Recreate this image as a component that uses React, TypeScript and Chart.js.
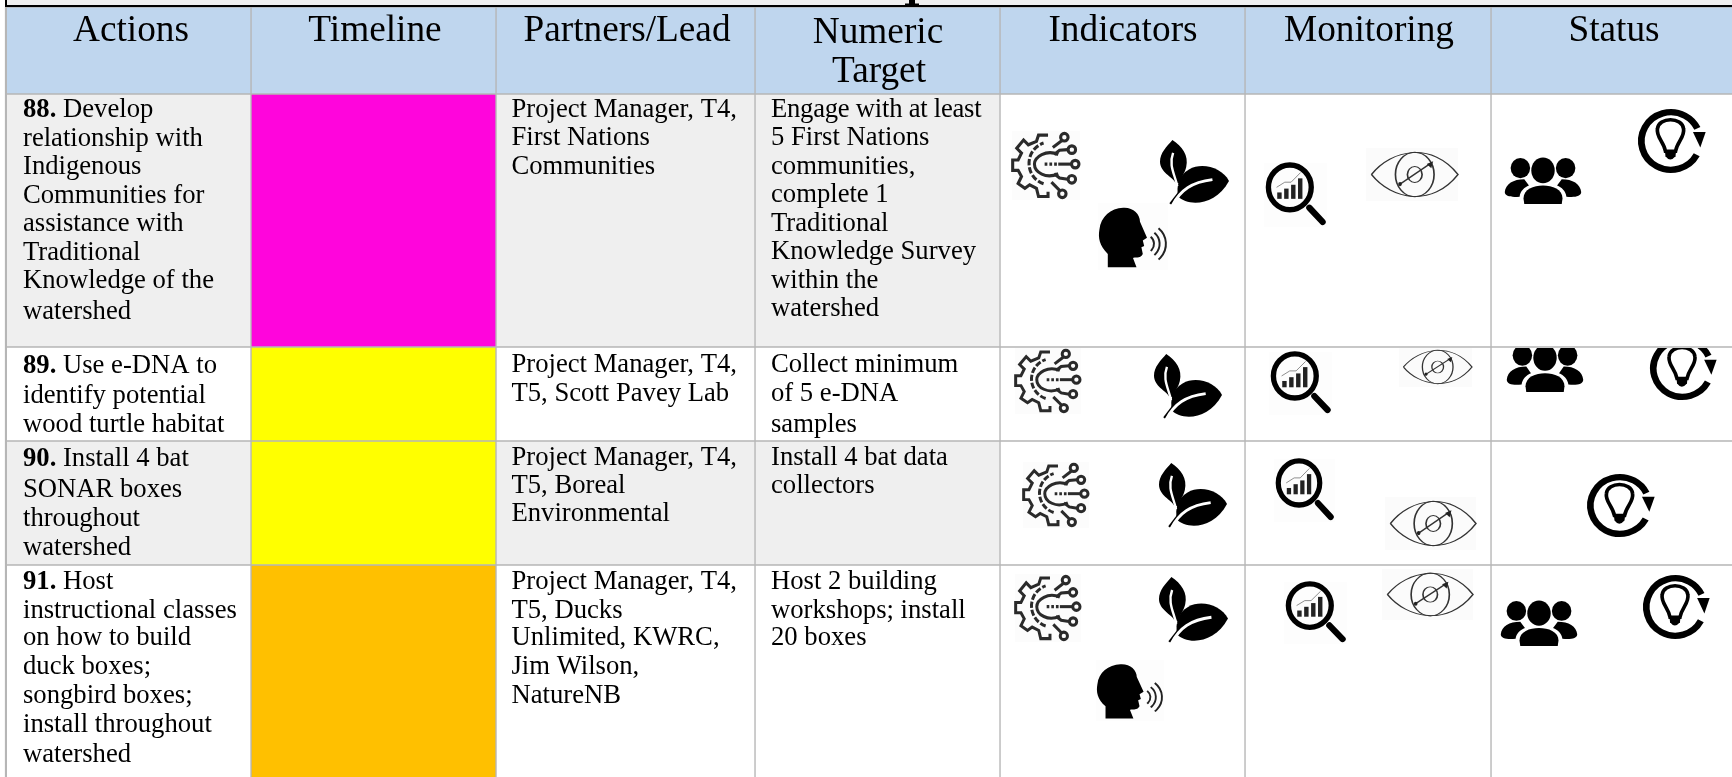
import React, { useEffect, useRef } from "react";
import { Chart, registerables } from "chart.js";

Chart.register(...registerables);

// ---- table structure ----
const columnEdges = [5, 251, 496, 755, 1000, 1245, 1491, 1740];
const rowEdges = [7, 94, 347, 441, 565, 790];
const headerFill = "#bfd6ee";
const shadeFill = "#efefef";
const plainFill = "#ffffff";
const rowFills = [headerFill, shadeFill, plainFill, shadeFill, plainFill];
const timelineColors = [headerFill, "#ff05dc", "#ffff00", "#ffff00", "#ffc000"];
const FONT = '"Liberation Serif", "Times New Roman", serif';

// ---- text ----
const headers: [string, number, number][] = [
  ["Actions", 131, 41], ["Timeline", 375, 41], ["Partners/Lead", 627, 41],
  ["Numeric", 878, 43], ["Target", 879, 82], ["Indicators", 1123, 41],
  ["Monitoring", 1369, 41], ["Status", 1614, 41],
];
const actionNumbers = ["88.", "89.", "90.", "91."];
const actionFirst = [" Develop", " Use e-DNA to", " Install 4 bat", " Host"];
const actionLines = [
  ["relationship with", "Indigenous", "Communities for", "assistance with", "Traditional", "Knowledge of the", "watershed"],
  ["identify potential", "wood turtle habitat"],
  ["SONAR boxes", "throughout", "watershed"],
  ["instructional classes", "on how to build", "duck boxes;", "songbird boxes;", "install throughout", "watershed"],
];
const partners = [
  ["Project Manager, T4,", "First Nations", "Communities"],
  ["Project Manager, T4,", "T5, Scott Pavey Lab"],
  ["Project Manager, T4,", "T5, Boreal", "Environmental"],
  ["Project Manager, T4,", "T5, Ducks", "Unlimited, KWRC,", "Jim Wilson,", "NatureNB"],
];
const targets = [
  ["Engage with at least", "5 First Nations", "communities,", "complete 1", "Traditional", "Knowledge Survey", "within the", "watershed"],
  ["Collect minimum", "of 5 e-DNA", "samples"],
  ["Install 4 bat data", "collectors"],
  ["Host 2 building", "workshops; install", "20 boxes"],
];
const actionBaselines = [
  [117, 146, 174, 203, 231, 260, 288, 319],
  [373, 403, 432],
  [466, 497, 526, 555],
  [589, 618, 645, 674, 703, 732, 762],
];
const sideBaselines = [
  [117, 145, 174, 202, 231, 259, 288, 316],
  [372, 401, 432],
  [465, 493, 521],
  [589, 618, 645, 674, 703],
];

// ---- icon placements: kind, x0, x1, y0, y1, row ----
type Ic = [string, number, number, number, number, number];
const icons: Ic[] = [
  ["gear", 1012, 1080, 131, 200, 1], ["leaf", 1160, 1229, 140, 204, 1], ["head", 1098, 1168, 203, 270, 1],
  ["mag", 1264, 1327, 163, 227, 1], ["eye", 1366, 1458, 148, 201, 1], ["people", 1504, 1582, 158, 204, 1], ["bulb", 1638, 1705, 109, 173, 1],
  ["gear", 1015, 1081, 348, 414, 2], ["leaf", 1154, 1222, 354, 418, 2], ["mag", 1269, 1332, 352, 415, 2],
  ["eye", 1399, 1472, 347, 387, 2], ["people", 1506, 1584, 345, 392, 2], ["bulb", 1650, 1716, 337, 400, 2],
  ["gear", 1023, 1089, 462, 528, 3], ["leaf", 1159, 1227, 463, 527, 3], ["mag", 1274, 1335, 459, 522, 3],
  ["eye", 1385, 1476, 497, 550, 3], ["bulb", 1587, 1654, 474, 537, 3],
  ["gear", 1015, 1081, 574, 642, 4], ["leaf", 1159, 1228, 577, 642, 4], ["head", 1096, 1164, 660, 721, 4],
  ["mag", 1284, 1347, 582, 644, 4], ["eye", 1382, 1473, 569, 620, 4], ["people", 1500, 1578, 601, 646, 4], ["bulb", 1643, 1709, 575, 639, 4],
];

// ---- icon drawing, in a 100x100 box ----
function line(c: CanvasRenderingContext2D, pts: number[][]) {
  c.beginPath();
  pts.forEach((p, i) => (i ? c.lineTo(p[0], p[1]) : c.moveTo(p[0], p[1])));
  c.stroke();
}
const gearOutline = [[53,6],[39,6],[36,15],[24,20],[17,13],[7,25],[14,32],[9,42],[1,42],[1,57],[9,57],[14,66],[9,76],[19,83],[26,78],[36,83],[39,95],[53,95],[53,88]];
const drawers: Record<string, (c: CanvasRenderingContext2D) => void> = {
  gear(c) {
    c.fillStyle = "rgba(0,0,0,0.012)"; c.fillRect(0, 0, 100, 100);
    c.strokeStyle = "#2a2a2a"; c.lineWidth = 4.5; c.lineJoin = "miter";
    line(c, gearOutline);
    c.setLineDash([9, 3]);
    c.beginPath(); c.arc(56, 47, 31, Math.PI * 0.6, Math.PI * 1.4); c.stroke();
    c.setLineDash([]);
    c.beginPath(); c.moveTo(68, 34); c.bezierCurveTo(50, 26, 33, 38, 33, 48); c.bezierCurveTo(33, 60, 50, 70, 68, 62); c.stroke();
    const ends = [[77,9],[88,27],[93,48],[88,70],[74,91]];
    ends.forEach((e) => { c.beginPath(); c.arc(e[0], e[1], 5.5, 0, 7); c.stroke(); });
    line(c, [[73,14],[60,24]]); line(c, [[82,27],[70,28],[62,34]]);
    c.setLineDash([4, 3]); line(c, [[48,48],[68,48]]); c.setLineDash([]); line(c, [[68,48],[87,48]]);
    line(c, [[82,70],[70,68],[62,62]]); line(c, [[70,86],[58,74]]);
  },
  leaf(c) {
    c.fillStyle = "#000";
    c.beginPath(); c.moveTo(18, 0); c.bezierCurveTo(32, 10, 42, 24, 38, 42); c.bezierCurveTo(36, 52, 30, 58, 28, 68); c.lineTo(22, 66);
    c.bezierCurveTo(18, 58, 0, 50, 0, 34); c.bezierCurveTo(0, 20, 10, 10, 18, 0); c.closePath(); c.fill();
    c.beginPath(); c.moveTo(100, 64); c.bezierCurveTo(90, 44, 62, 34, 42, 46); c.bezierCurveTo(26, 56, 24, 72, 26, 88);
    c.bezierCurveTo(40, 104, 80, 104, 100, 64); c.closePath(); c.fill();
    c.strokeStyle = "#000"; c.lineWidth = 3.5;
    line(c, [[15, 100], [28, 82]]);
    c.strokeStyle = "#fff"; c.lineWidth = 3.5; c.beginPath(); c.moveTo(19, 20); c.bezierCurveTo(12, 40, 22, 55, 25, 72); c.stroke();
    c.lineWidth = 4.5; c.beginPath(); c.moveTo(18, 102); c.bezierCurveTo(30, 78, 46, 66, 76, 62); c.stroke();
  },
  head(c) {
    c.fillStyle = "rgba(0,0,0,0.008)"; c.fillRect(0, 0, 100, 100);
    c.fillStyle = "#000"; c.beginPath(); c.moveTo(36, 7);
    c.bezierCurveTo(50, 6, 60, 16, 60, 28); c.lineTo(70, 52); c.lineTo(64, 56); c.lineTo(66, 64); c.lineTo(62, 66); c.lineTo(64, 76);
    c.bezierCurveTo(60, 84, 52, 80, 50, 82); c.lineTo(55, 96); c.lineTo(14, 96); c.lineTo(14, 76);
    c.bezierCurveTo(2, 64, 0, 52, 2, 40); c.bezierCurveTo(4, 20, 18, 8, 36, 7); c.closePath(); c.fill();
    c.strokeStyle = "#222"; c.lineWidth = 2.8;
    [14, 22, 31].forEach((r) => { c.beginPath(); c.arc(66, 61, r, -0.85, 0.85); c.stroke(); });
  },
  mag(c) {
    c.fillStyle = "rgba(0,0,0,0.008)"; c.fillRect(0, 0, 100, 100);
    c.strokeStyle = "#000"; c.lineWidth = 8.5;
    c.beginPath(); c.ellipse(41, 38, 34, 35, 0, 0, 7); c.stroke();
    c.lineWidth = 10; c.lineCap = "round"; line(c, [[72, 70], [93, 92]]); c.lineCap = "butt";
    c.fillStyle = "#222";
    [[21,46,7,10],[32,40,7,16],[43,34,7,22],[54,24,7,32]].forEach((b) => c.fillRect(b[0], b[1], b[2], b[3]));
    c.strokeStyle = "#888"; c.lineWidth = 1.5; line(c, [[20,38],[33,30],[43,30],[58,15]]);
  },
  eye(c) {
    c.fillStyle = "rgba(0,0,0,0.015)"; c.fillRect(0, 0, 100, 100);
    c.strokeStyle = "#333"; c.lineWidth = 1.8;
    c.beginPath(); c.moveTo(6, 50); c.bezierCurveTo(28, 2, 72, -12, 100, 50); c.bezierCurveTo(72, 112, 28, 98, 6, 50); c.stroke();
    c.beginPath(); c.ellipse(53, 50, 21, 42, 0, 0, 7); c.stroke();
    c.beginPath(); c.ellipse(53, 50, 8, 15, 0, 0, 7); c.stroke();
    c.lineWidth = 2.2; line(c, [[37, 68], [71, 28]]);
    c.fillStyle = "#222"; c.beginPath(); c.moveTo(73, 25); c.lineTo(66, 30); c.lineTo(71, 38); c.closePath(); c.fill();
    c.beginPath(); c.ellipse(37, 68, 2, 4, 0, 0, 7); c.fill();
  },
  people(c) {
    c.fillStyle = "#000";
    [[21, 22, 12.5, 22], [79, 22, 12.5, 22], [50, 27, 15, 28]].forEach((h) => {
      c.beginPath(); c.ellipse(h[0], h[1], h[2], h[3], 0, 0, 7); c.fill();
    });
    c.beginPath(); c.moveTo(1, 74); c.bezierCurveTo(2, 56, 12, 46, 26, 46); c.lineTo(32, 60); c.bezierCurveTo(26, 64, 21, 72, 20, 84); c.bezierCurveTo(10, 86, 1, 84, 1, 74); c.closePath(); c.fill();
    c.beginPath(); c.moveTo(99, 74); c.bezierCurveTo(98, 56, 88, 46, 74, 46); c.lineTo(68, 60); c.bezierCurveTo(74, 64, 79, 72, 80, 84); c.bezierCurveTo(90, 86, 99, 84, 99, 74); c.closePath(); c.fill();
    c.beginPath(); c.moveTo(25, 88); c.bezierCurveTo(25, 68, 38, 60, 50, 60); c.bezierCurveTo(62, 60, 75, 68, 75, 88); c.lineTo(74, 100); c.lineTo(26, 100); c.closePath(); c.fill();
  },
  bulb(c) {
    c.strokeStyle = "#000"; c.lineWidth = 10;
    c.beginPath(); c.ellipse(49, 50, 44, 45, 0, 0.5, Math.PI * 2 - 0.45); c.stroke();
    c.fillStyle = "#000"; c.beginPath(); c.moveTo(82, 36); c.lineTo(101, 36); c.lineTo(93, 60); c.closePath(); c.fill();
    c.lineWidth = 5.5;
    c.beginPath(); c.moveTo(41, 66); c.bezierCurveTo(38, 50, 27, 44, 29, 31); c.bezierCurveTo(31, 12, 66, 12, 68, 31); c.bezierCurveTo(70, 44, 59, 50, 56, 66); c.closePath(); c.stroke();
    c.beginPath(); c.moveTo(40, 64); c.lineTo(57, 64); c.lineTo(56, 74); c.quadraticCurveTo(48, 84, 41, 74); c.closePath(); c.fill();
  },
};

const tablePlugin = {
  id: "tableContent",
  afterDatasetsDraw(chart: any) {
    const c: CanvasRenderingContext2D = chart.ctx;
    const xs = chart.scales.x, ys = chart.scales.y;
    const X = (v: number) => xs.getPixelForValue(v), Y = (v: number) => ys.getPixelForValue(v);
    c.save();
    // top strip: frame of the title row above the table
    c.fillStyle = "#f0f0f0"; c.fillRect(X(7), Y(0), X(1732) - X(7), Y(5) - Y(0));
    c.fillStyle = "#000"; c.fillRect(X(5), Y(5), X(1732) - X(5), Y(7) - Y(5));
    c.fillRect(X(5), Y(0), 2, Y(7) - Y(0));
    c.fillRect(X(909), Y(0), 6, Y(5) - Y(0));
    c.fillRect(X(905), Y(3.5), 14, Y(5) - Y(3.5));
    c.fillStyle = "#b6b6b6"; c.fillRect(X(5), Y(7), 2, Y(777) - Y(7));
    c.textBaseline = "alphabetic"; c.fillStyle = "#000";
    c.textAlign = "center"; c.font = `37.3px ${FONT}`;
    headers.forEach(([t, x, y]) => c.fillText(t, X(x), Y(y)));
    c.textAlign = "left";
    const body = `26.67px ${FONT}`;
    c.font = body;
    actionLines.forEach((lines, r) => {
      c.font = `bold 26.67px ${FONT}`;
      c.fillText(actionNumbers[r], X(23), Y(actionBaselines[r][0]));
      const w = c.measureText(actionNumbers[r]).width;
      c.font = body;
      c.fillText(actionFirst[r], X(23) + w, Y(actionBaselines[r][0]));
      lines.forEach((l, i) => c.fillText(l, X(23), Y(actionBaselines[r][i + 1])));
      partners[r].forEach((l, i) => c.fillText(l, X(511.5), Y(sideBaselines[r][i])));
      targets[r].forEach((l, i) => {
        (c as any).letterSpacing = l === "Engage with at least" ? "-0.25px" : "0px";
        c.fillText(l, X(771), Y(sideBaselines[r][i]));
      });
      (c as any).letterSpacing = "0px";
    });
    icons.forEach(([k, x0, x1, y0, y1, row]) => {
      c.save();
      c.beginPath();
      c.rect(X(1000), Y(rowEdges[row]) + 1, X(1740) - X(1000), Y(rowEdges[row + 1]) - Y(rowEdges[row]) - 2);
      c.clip();
      c.filter = "blur(0.6px)";
      c.translate(X(x0), Y(y0));
      c.scale((X(x1) - X(x0)) / 100, (Y(y1) - Y(y0)) / 100);
      drawers[k](c);
      c.restore();
    });
    c.restore();
  },
};

export default function App() {
  const ref = useRef<HTMLCanvasElement>(null);
  useEffect(() => {
    document.body.style.margin = "0";
    const nRows = rowEdges.length - 1;
    const datasets = columnEdges.slice(0, -1).map((x0, col) => {
      const x1 = columnEdges[col + 1];
      const colors = col === 1 ? timelineColors : col >= 4 ? rowFills.map((f, i) => (i ? plainFill : headerFill)) : rowFills;
      return {
        type: "bar" as const,
        label: `col${col}`,
        data: Array.from({ length: nRows }, (_, r) => ({ x: (x0 + x1) / 2, y: [rowEdges[r], rowEdges[r + 1]] })),
        backgroundColor: colors,
        borderColor: "#b6b6b6",
        borderWidth: 1,
        borderSkipped: false,
        barThickness: x1 - x0,
        grouped: false,
      };
    });
    const chart = new Chart(ref.current!, {
      type: "bar",
      data: { datasets: datasets as any },
      plugins: [tablePlugin],
      options: {
        animation: false,
        responsive: false,
        layout: { padding: 0 },
        plugins: { legend: { display: false }, tooltip: { enabled: false } },
        scales: {
          x: { type: "linear", min: 0, max: 1732, display: false, offset: false },
          y: { type: "linear", min: 0, max: 777, reverse: true, display: false },
        },
      },
    });
    return () => chart.destroy();
  }, []);
  return <canvas ref={ref} width={1732} height={777} style={{ display: "block", width: 1732, height: 777 }} />;
}
